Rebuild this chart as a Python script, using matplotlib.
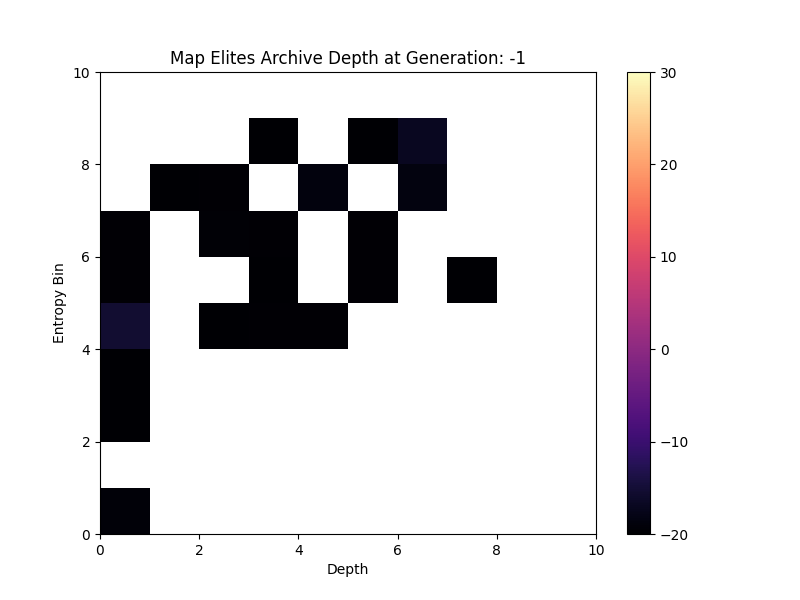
import matplotlib
matplotlib.use("Agg")
import matplotlib.pyplot as plt
import numpy as np

# filled cells: (depth bin, entropy bin, value)
depth_bins = [3, 5, 6, 1, 2, 4, 6, 0, 2, 3, 5, 0, 3, 5, 7, 0, 2, 3, 4, 0, 0, 0]
entropy_bins = [8, 8, 8, 7, 7, 7, 7, 6, 6, 6, 6, 5, 5, 5, 5, 4, 4, 4, 4, 3, 2, 0]
values = [-20, -20, -17, -20, -19.7, -18.8, -18.6, -19.8, -19.6, -19.8, -19.8,
          -19.8, -19.9, -19.8, -19.9, -15.5, -19.9, -19.8, -19.8, -19.9, -19.9, -19.3]

grid = np.full((10, 10), np.nan)
for d, e, v in zip(depth_bins, entropy_bins, values):
    grid[e, d] = v

fig, ax = plt.subplots(figsize=(8, 6), dpi=100)
mesh = ax.pcolormesh(np.arange(11), np.arange(11), np.ma.masked_invalid(grid),
                     cmap="magma", vmin=-20, vmax=30)
fig.colorbar(mesh, ax=ax)
ax.set_xlim(0, 10)
ax.set_ylim(0, 10)
ax.set_xlabel("Depth")
ax.set_ylabel("Entropy Bin")
ax.set_title("Map Elites Archive Depth at Generation: -1")

fig.savefig("out.png")
